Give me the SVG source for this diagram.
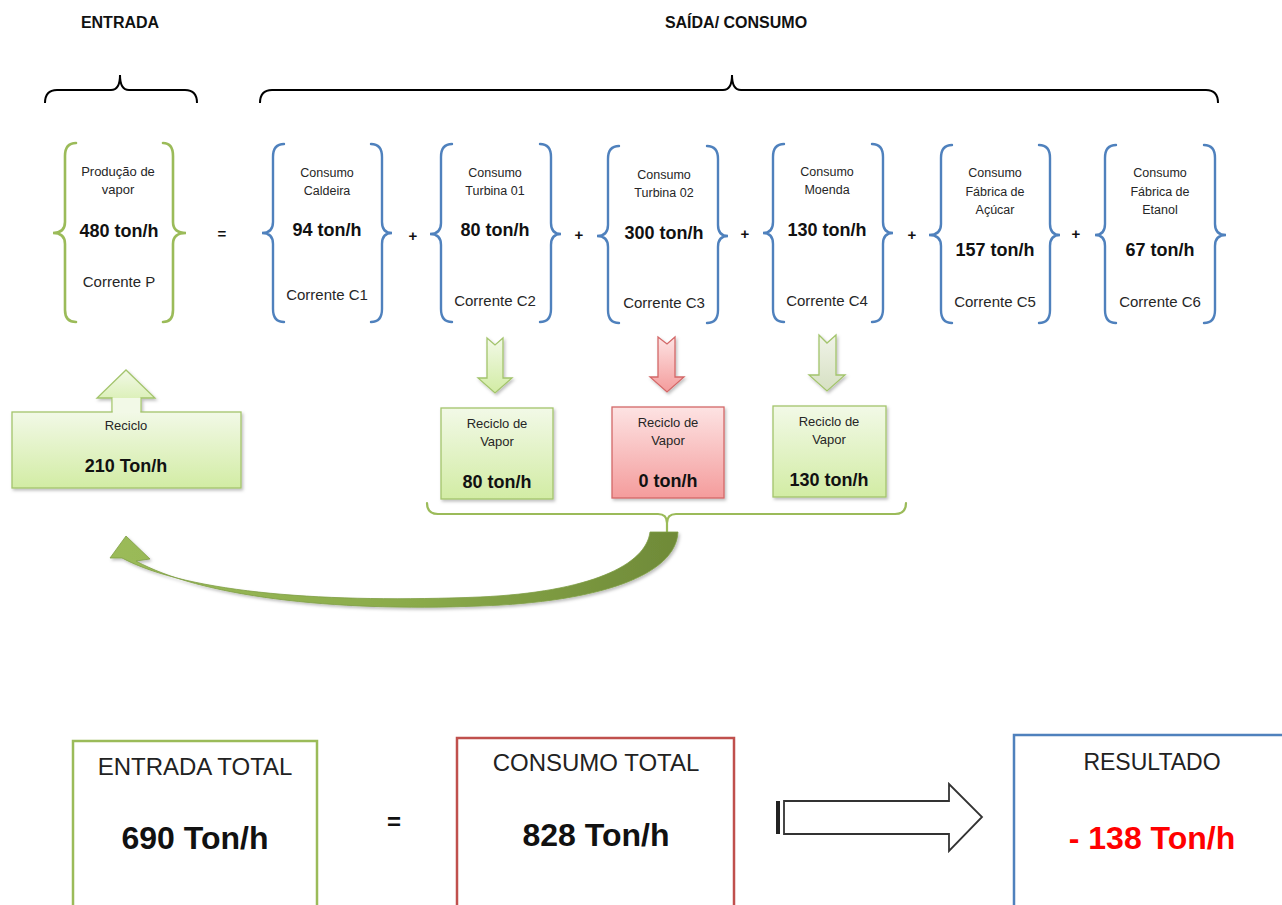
<svg xmlns="http://www.w3.org/2000/svg" width="1282" height="905" viewBox="0 0 1282 905">
  <defs>
    <linearGradient id="gGreen" x1="0" y1="0" x2="0" y2="1">
      <stop offset="0" stop-color="#f2f9e7"/>
      <stop offset="1" stop-color="#d2eca4"/>
    </linearGradient>
    <linearGradient id="gRed" x1="0" y1="0" x2="0" y2="1">
      <stop offset="0" stop-color="#fde3e3"/>
      <stop offset="1" stop-color="#f49c9c"/>
    </linearGradient>
    <linearGradient id="gOlive" x1="0" y1="0" x2="0" y2="1">
      <stop offset="0" stop-color="#f0f3e8"/>
      <stop offset="1" stop-color="#d6e0c2"/>
    </linearGradient>
    <linearGradient id="gCurve" x1="0" y1="0" x2="1" y2="0">
      <stop offset="0" stop-color="#9bbb59"/>
      <stop offset="0.55" stop-color="#8aaa4a"/>
      <stop offset="1" stop-color="#6f8a38"/>
    </linearGradient>
    <filter id="shadow" x="-10%" y="-10%" width="125%" height="130%">
      <feDropShadow dx="1.5" dy="2" stdDeviation="1.5" flood-color="#000" flood-opacity="0.25"/>
    </filter>
  </defs>
  <style>
    text { font-family: "Liberation Sans", Arial, sans-serif; fill: #262626; text-anchor: middle; }
    .title { font-size: 16px; font-weight: bold; fill: #111; }
    .lbl { font-size: 12.5px; }
    .cor { font-size: 15px; }
    .val { font-size: 18px; font-weight: bold; fill: #111; }
    .op { font-size: 15px; font-weight: bold; fill: #111; }
    .big { font-size: 24px; fill: #222; }
    .bigv { font-size: 32px; font-weight: bold; fill: #111; }
    .brace-g { fill: none; stroke: #9bbb59; stroke-width: 2.6; stroke-linecap: round; }
    .brace-b { fill: none; stroke: #4f81bd; stroke-width: 2.4; stroke-linecap: round; }
    .brace-k { fill: none; stroke: #000; stroke-width: 2; }
    .boxg { fill: url(#gGreen); stroke: #a3c46c; stroke-width: 1.3; }
    .boxr { fill: url(#gRed); stroke: #d36868; stroke-width: 1.3; }
  </style>

  <!-- section headings with their braces -->
  <g id="heading-entrada">
    <text class="title" x="120" y="28">ENTRADA</text>
    <path class="brace-k" d="M45,103 Q45,90 57,90 L111,90 Q120,90 120,75 Q120,90 129,90 L185,90 Q197,90 197,103"/>
  </g>
  <g id="heading-saida">
    <text class="title" x="736" y="28">SAÍDA/ CONSUMO</text>
    <path class="brace-k" d="M260,103 Q260,90 272,90 L723,90 Q732,90 732,75 Q732,90 741,90 L1206,90 Q1218,90 1218,103"/>
  </g>

  <!-- steam production -->
  <g id="producao">
    <path class="brace-g" d="M76,143 Q65,143 65,156 L65,222 Q65,233 53,233 Q65,233 65,244 L65,310 Q65,322 76,322"/>
    <path class="brace-g" d="M163,143 Q173,143 173,156 L173,222 Q173,233 186,233 Q173,233 173,244 L173,310 Q173,322 163,322"/>
    <text class="lbl" x="118" y="176" style="font-size:13px">Produção de</text>
    <text class="lbl" x="118" y="194" style="font-size:13px">vapor</text>
    <text class="val" x="119" y="237">480 ton/h</text>
    <text class="cor" x="119" y="287">Corrente P</text>
  </g>
  <text class="op" x="222" y="239">=</text>

  <!-- consumers -->
  <g id="c1">
    <path class="brace-b" d="M284,144 Q273,144 273,157 L273,222 Q273,233 262,233 Q273,233 273,244 L273,309 Q273,322 284,322"/>
    <path class="brace-b" d="M371,144 Q382,144 382,157 L382,222 Q382,233 392,233 Q382,233 382,244 L382,309 Q382,322 371,322"/>
    <text class="lbl" x="327" y="177">Consumo</text>
    <text class="lbl" x="327" y="195">Caldeira</text>
    <text class="val" x="327" y="236">94 ton/h</text>
    <text class="cor" x="327" y="300">Corrente C1</text>
  </g>
  <text class="op" x="413" y="241">+</text>

  <g id="c2">
    <path class="brace-b" d="M452,144 Q441,144 441,157 L441,223 Q441,234 430,234 Q441,234 441,245 L441,309 Q441,322 452,322"/>
    <path class="brace-b" d="M540,144 Q551,144 551,157 L551,223 Q551,234 561,234 Q551,234 551,245 L551,309 Q551,322 540,322"/>
    <text class="lbl" x="495" y="177">Consumo</text>
    <text class="lbl" x="495" y="195">Turbina 01</text>
    <text class="val" x="495" y="236">80 ton/h</text>
    <text class="cor" x="495" y="306">Corrente C2</text>
  </g>
  <text class="op" x="579" y="240">+</text>

  <g id="c3">
    <path class="brace-b" d="M619,146 Q608,146 608,159 L608,225 Q608,236 597,236 Q608,236 608,247 L608,310 Q608,323 619,323"/>
    <path class="brace-b" d="M707,146 Q718,146 718,159 L718,225 Q718,236 728,236 Q718,236 718,247 L718,310 Q718,323 707,323"/>
    <text class="lbl" x="664" y="179">Consumo</text>
    <text class="lbl" x="664" y="197">Turbina 02</text>
    <text class="val" x="664" y="239">300 ton/h</text>
    <text class="cor" x="664" y="308">Corrente C3</text>
  </g>
  <text class="op" x="745" y="239">+</text>

  <g id="c4">
    <path class="brace-b" d="M784,144 Q773,144 773,157 L773,222 Q773,233 763,233 Q773,233 773,244 L773,309 Q773,322 784,322"/>
    <path class="brace-b" d="M872,144 Q883,144 883,157 L883,222 Q883,233 893,233 Q883,233 883,244 L883,309 Q883,322 872,322"/>
    <text class="lbl" x="827" y="176">Consumo</text>
    <text class="lbl" x="827" y="194">Moenda</text>
    <text class="val" x="827" y="236">130 ton/h</text>
    <text class="cor" x="827" y="306">Corrente C4</text>
  </g>
  <text class="op" x="912" y="240">+</text>

  <g id="c5">
    <path class="brace-b" d="M952,145 Q941,145 941,158 L941,224 Q941,235 929,235 Q941,235 941,246 L941,310 Q941,323 952,323"/>
    <path class="brace-b" d="M1039,145 Q1050,145 1050,158 L1050,224 Q1050,235 1060,235 Q1050,235 1050,246 L1050,310 Q1050,323 1039,323"/>
    <text class="lbl" x="995" y="177">Consumo</text>
    <text class="lbl" x="995" y="196">Fábrica de</text>
    <text class="lbl" x="995" y="214">Açúcar</text>
    <text class="val" x="995" y="256">157 ton/h</text>
    <text class="cor" x="995" y="307">Corrente C5</text>
  </g>
  <text class="op" x="1076" y="239">+</text>

  <g id="c6">
    <path class="brace-b" d="M1116,145 Q1105,145 1105,158 L1105,224 Q1105,235 1095,235 Q1105,235 1105,246 L1105,310 Q1105,323 1116,323"/>
    <path class="brace-b" d="M1204,145 Q1215,145 1215,158 L1215,224 Q1215,235 1226,235 Q1215,235 1215,246 L1215,310 Q1215,323 1204,323"/>
    <text class="lbl" x="1160" y="177">Consumo</text>
    <text class="lbl" x="1160" y="196">Fábrica de</text>
    <text class="lbl" x="1160" y="214">Etanol</text>
    <text class="val" x="1160" y="256">67 ton/h</text>
    <text class="cor" x="1160" y="307">Corrente C6</text>
  </g>

  <!-- recycle total fed back to production -->
  <g id="reciclo-total">
    <polygon class="boxg" points="112,412 112,398 97,398 126,370 155,398 141,398 141,412" filter="url(#shadow)"/>
    <rect class="boxg" x="12" y="412" width="229" height="76" filter="url(#shadow)"/>
    <polygon points="112.7,413 112.7,398 140.3,398 140.3,413" fill="#f2f9e7"/>
    <text class="lbl" x="126" y="430" style="font-size:13px">Reciclo</text>
    <text class="val" x="126" y="472">210 Ton/h</text>
  </g>

  <!-- steam recycle per consumer -->
  <g id="reciclo-c2">
    <polygon class="boxg" points="487,338 495,345 503,338 503,378 512,378 495,393 478,378 487,378" filter="url(#shadow)"/>
    <rect class="boxg" x="441" y="408" width="112" height="91" filter="url(#shadow)"/>
    <text class="lbl" x="497" y="428" style="font-size:13px">Reciclo de</text>
    <text class="lbl" x="497" y="446" style="font-size:13px">Vapor</text>
    <text class="val" x="497" y="488">80 ton/h</text>
  </g>
  <g id="reciclo-c3">
    <polygon class="boxr" points="658,337 667,344 675,337 675,377 684,377 667,392 650,377 658,377" filter="url(#shadow)"/>
    <rect class="boxr" x="612" y="407" width="112" height="91" filter="url(#shadow)"/>
    <text class="lbl" x="668" y="427" style="font-size:13px">Reciclo de</text>
    <text class="lbl" x="668" y="445" style="font-size:13px">Vapor</text>
    <text class="val" x="668" y="487">0 ton/h</text>
  </g>
  <g id="reciclo-c4">
    <polygon points="819,335 827,343 836,335 836,375 845,375 827,391 809,375 819,375" fill="url(#gOlive)" stroke="#a3c46c" stroke-width="1.3" filter="url(#shadow)"/>
    <rect class="boxg" x="773" y="406" width="113" height="91" filter="url(#shadow)"/>
    <text class="lbl" x="829" y="426" style="font-size:13px">Reciclo de</text>
    <text class="lbl" x="829" y="444" style="font-size:13px">Vapor</text>
    <text class="val" x="829" y="486">130 ton/h</text>
  </g>

  <!-- connectors -->
  <g id="connectors">
    <path class="brace-g" style="stroke-width:2.2" d="M427,503 Q427,514 438,514 L658,514 Q667,514 667,523 L667,534 M667,523 Q667,514 676,514 L895,514 Q906,514 906,503"/>
    <path d="M650,532 L678,532 C676,575 600,602 480,606 C330,612 200,596 136,561 L150,559 L126,536 L110,558 L122,558 C190,594 330,603 480,597 C590,592 646,565 650,532 Z" fill="url(#gCurve)" stroke="#7f9e45" stroke-width="0.8" filter="url(#shadow)"/>
  </g>

  <!-- totals -->
  <g id="entrada-total">
    <rect x="73" y="741" width="244" height="180" fill="#fff" stroke="#9bbb59" stroke-width="2.5"/>
    <text class="big" x="195" y="775">ENTRADA TOTAL</text>
    <text class="bigv" x="195" y="849">690 Ton/h</text>
  </g>
  <text class="bigv" x="394" y="830" style="font-size:24px">=</text>
  <g id="consumo-total">
    <rect x="457" y="738" width="277" height="180" fill="#fff" stroke="#c0504d" stroke-width="2.5"/>
    <text class="big" x="596" y="771">CONSUMO TOTAL</text>
    <text class="bigv" x="596" y="846">828 Ton/h</text>
  </g>
  <g id="seta-resultado">
    <path d="M784,801 L949,801 L949,784 L982,817 L949,851 L949,834 L784,834 Z" fill="#fff" stroke="#333" stroke-width="1.8" stroke-linejoin="miter"/>
    <rect x="776" y="801" width="4" height="33" fill="#222"/>
  </g>
  <g id="resultado">
    <rect x="1014" y="735" width="290" height="180" fill="#fff" stroke="#4f81bd" stroke-width="2.5"/>
    <text class="big" x="1152" y="770" style="font-size:23px">RESULTADO</text>
    <text class="bigv" x="1152" y="849" style="fill:#ff0000">- 138 Ton/h</text>
  </g>
</svg>
